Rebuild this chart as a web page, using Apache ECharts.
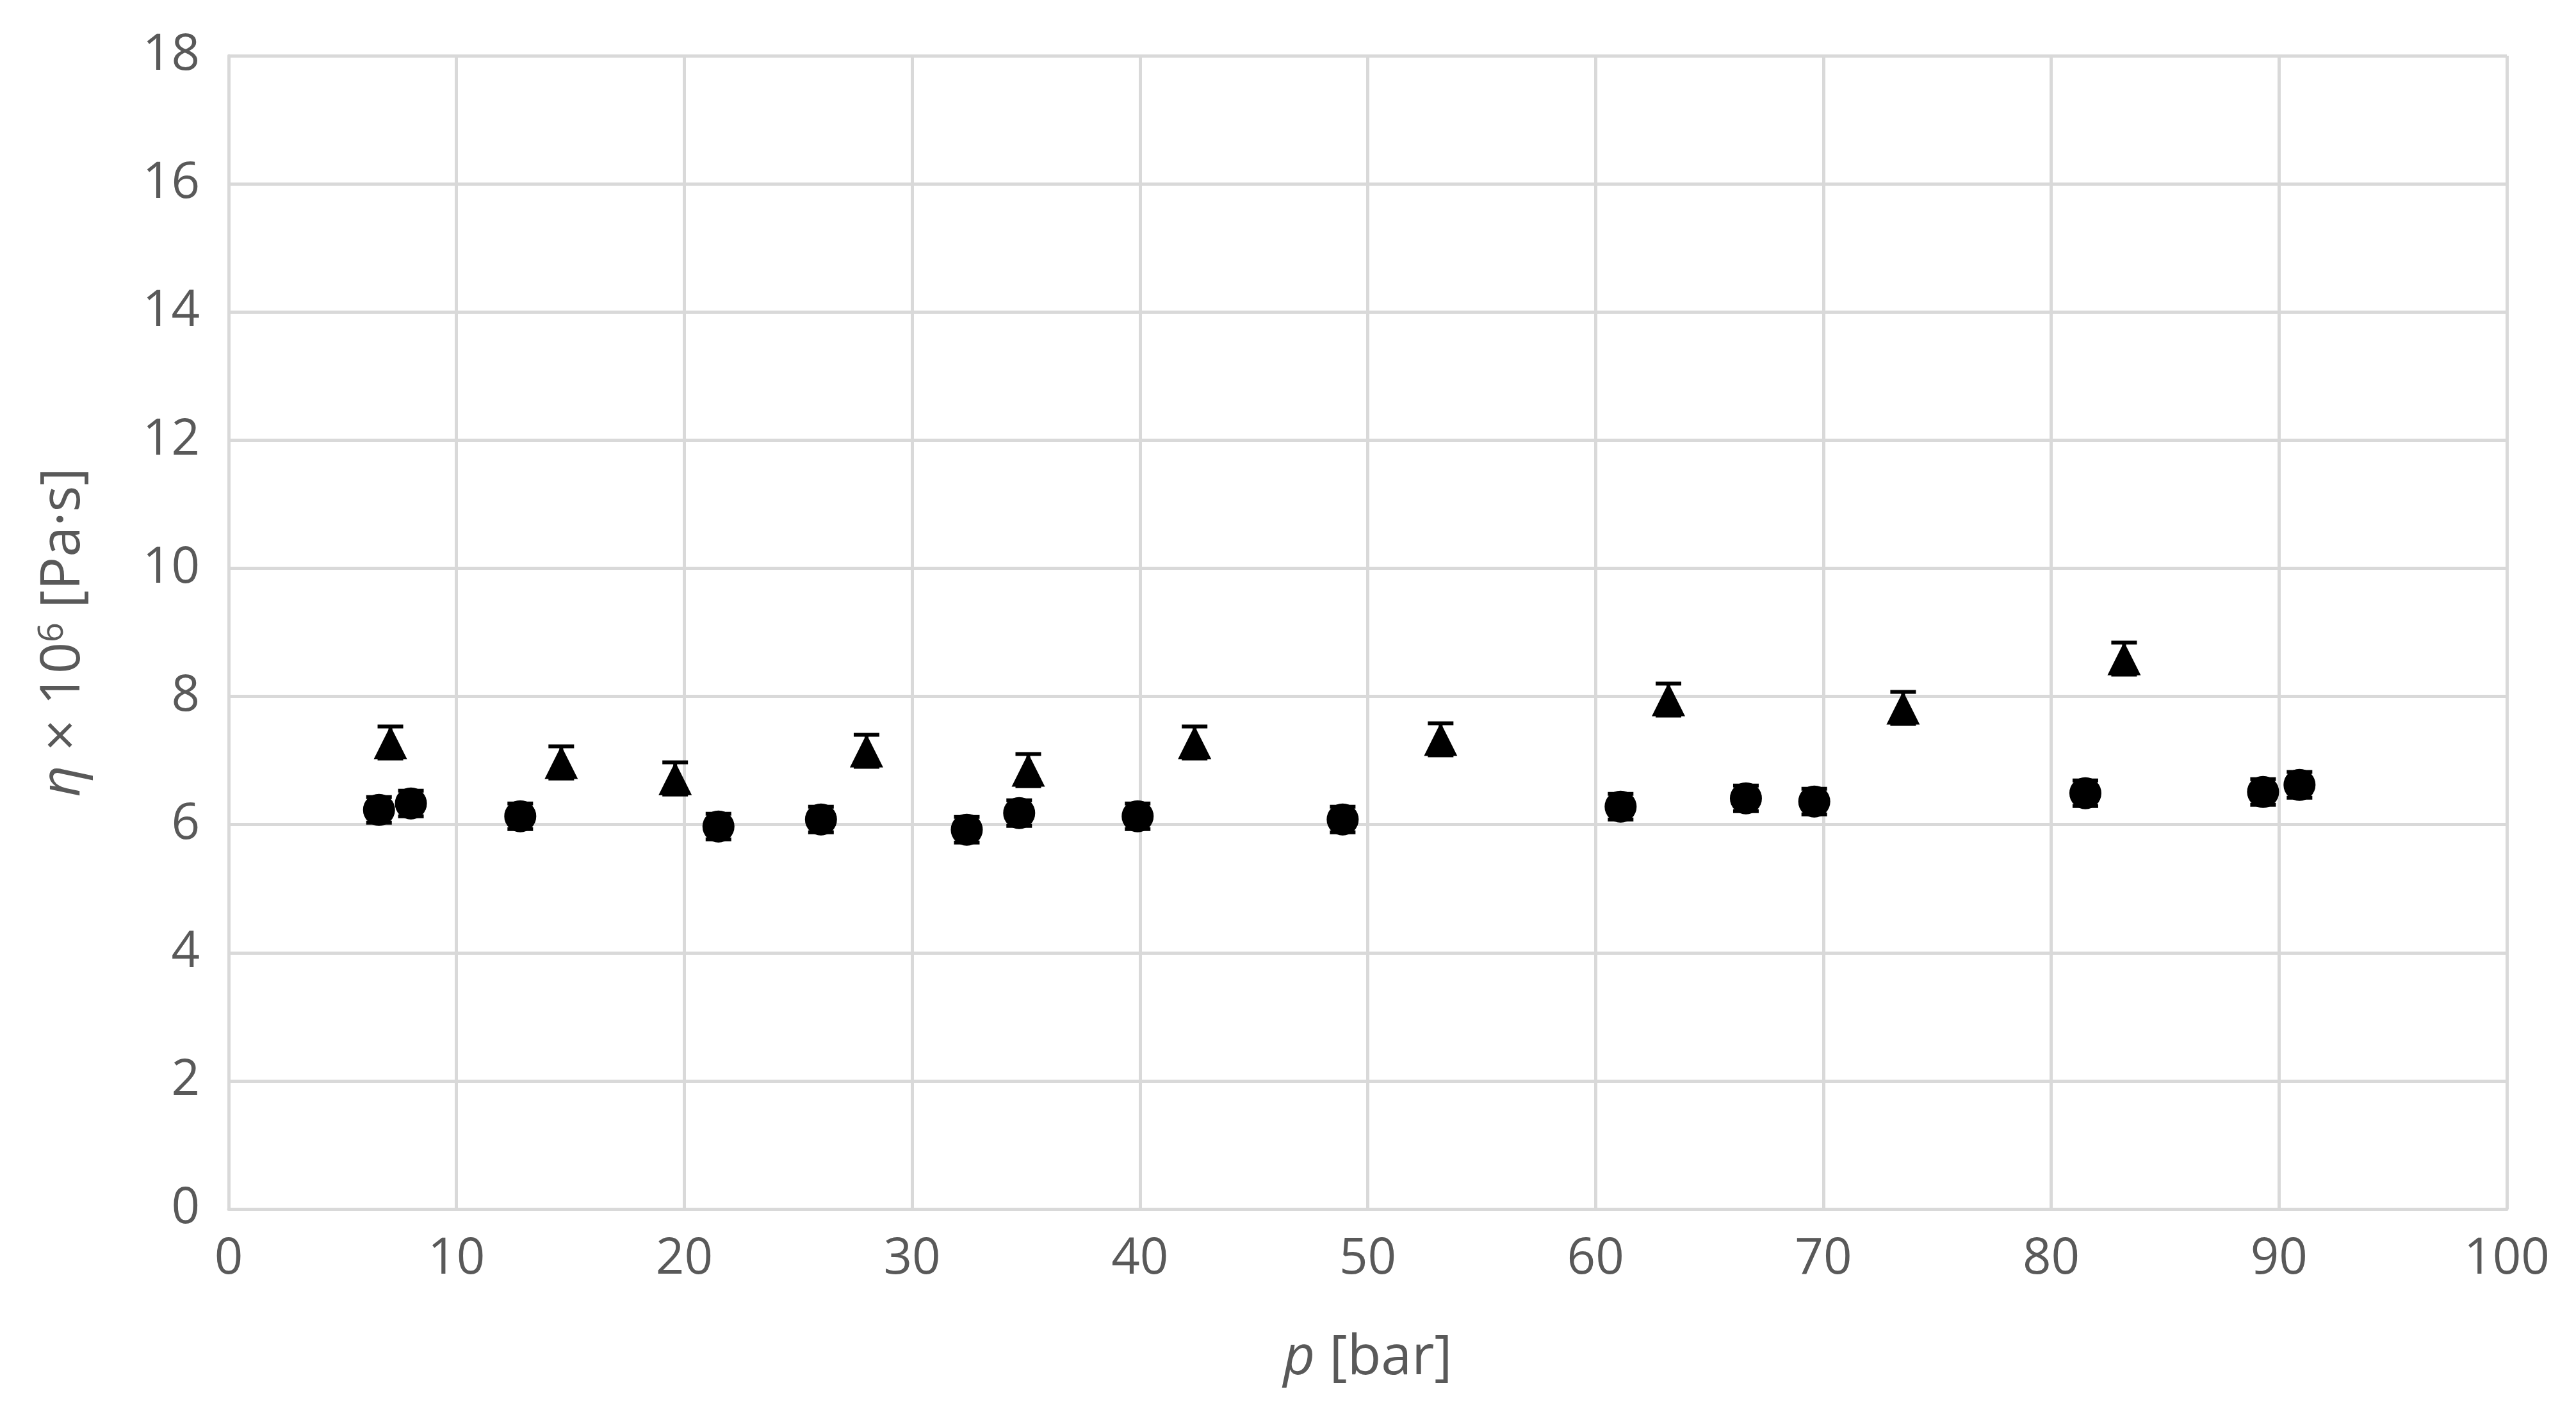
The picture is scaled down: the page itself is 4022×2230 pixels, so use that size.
<!DOCTYPE html>
<html>
<head>
<meta charset="utf-8">
<script src="https://cdn.jsdelivr.net/npm/echarts@6/dist/echarts.min.js"></script>
<style>html,body{margin:0;padding:0;background:#fff}#chart{width:4022px;height:2230px}</style>
</head>
<body>
<div id="chart"></div>
<script>
// circles: pressure [bar], viscosity x1e6 [Pa·s], error
const circleP = [6.6, 8.0, 12.8, 21.5, 26.0, 32.4, 34.7, 39.9, 48.9, 61.1, 66.6, 69.6, 81.5, 89.3, 90.9]
const circleEta = [6.23, 6.33, 6.13, 5.97, 6.08, 5.92, 6.18, 6.13, 6.08, 6.28, 6.41, 6.36, 6.49, 6.51, 6.62]
const circleErr = 0.2
// triangles
const triP = [7.1, 14.6, 19.6, 28.0, 35.1, 42.4, 53.2, 63.2, 73.5, 83.2]
const triEta = [7.28, 6.97, 6.72, 7.15, 6.85, 7.28, 7.33, 7.95, 7.82, 8.59]
const triErr = 0.25

const toPts = (xs, ys) => xs.map((x, i) => [x, ys[i]])
const toErr = (xs, ys, e) => xs.map((x, i) => [x, ys[i] - e, ys[i] + e])

const errorSeries = (data) => ({
    type: 'custom',
    data: data,
    z: 3,
    renderItem: (params, api) => {
        const lo = api.coord([api.value(0), api.value(1)])
        const hi = api.coord([api.value(0), api.value(2)])
        const w = 20
        const st = { stroke: '#000', lineWidth: 6 }
        return {
            type: 'group',
            children: [
                { type: 'line', shape: { x1: lo[0], y1: lo[1], x2: hi[0], y2: hi[1] }, style: st },
                { type: 'line', shape: { x1: lo[0] - w, y1: lo[1], x2: lo[0] + w, y2: lo[1] }, style: st },
                { type: 'line', shape: { x1: hi[0] - w, y1: hi[1], x2: hi[0] + w, y2: hi[1] }, style: st },
            ]
        }
    }
})

const textColor = '#595959'
const font = 'Open Sans'
const chart = echarts.init(document.getElementById('chart'))
chart.setOption({
    animation: false,
    grid: { left: 357, right: 108, top: 87, bottom: 342 },
    xAxis: {
        type: 'value', min: 0, max: 100, interval: 10,
        name: '{i|p} [bar]', nameLocation: 'middle', nameGap: 190,
        nameTextStyle: { fontSize: 86, color: textColor, fontFamily: font, rich: { i: { fontStyle: 'italic', fontSize: 86, color: textColor, fontFamily: font } } },
        axisLine: { lineStyle: { color: '#d9d9d9', width: 5 } },
        axisTick: { show: false },
        axisLabel: { fontSize: 78, color: textColor, fontFamily: font, margin: 40 },
        splitLine: { lineStyle: { color: '#d9d9d9', width: 5 } }
    },
    yAxis: {
        type: 'value', min: 0, max: 18, interval: 2,
        name: '{i|η} × 10{s|6} [Pa·s]', nameLocation: 'middle', nameGap: 215,
        nameTextStyle: { fontSize: 86, color: textColor, fontFamily: font, rich: { i: { fontStyle: 'italic', fontSize: 86, color: textColor, fontFamily: font }, s: { fontSize: 54, color: textColor, verticalAlign: 'top', padding: [0, 0, 32, 0], fontFamily: font } } },
        axisLine: { show: true, lineStyle: { color: '#d9d9d9', width: 5 } },
        axisTick: { show: false },
        axisLabel: { fontSize: 78, color: textColor, fontFamily: font, margin: 45 },
        splitLine: { lineStyle: { color: '#d9d9d9', width: 5 } }
    },
    series: [
        errorSeries(toErr(circleP, circleEta, circleErr)),
        errorSeries(toErr(triP, triEta, triErr)),
        { type: 'scatter', data: toPts(circleP, circleEta), symbol: 'circle', symbolSize: 50, itemStyle: { color: '#000', opacity: 1 }, z: 4 },
        { type: 'scatter', data: toPts(triP, triEta), symbol: 'triangle', symbolSize: 52, itemStyle: { color: '#000', opacity: 1 }, z: 4 }
    ]
})
</script>
</body>
</html>
